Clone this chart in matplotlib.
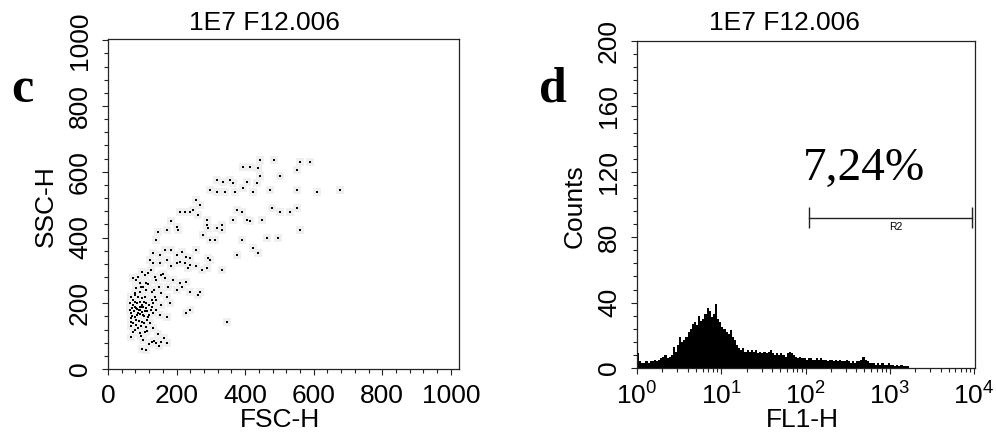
import numpy as np
import matplotlib
matplotlib.use("Agg")
import matplotlib.pyplot as plt
from matplotlib.ticker import MultipleLocator, LogLocator, LogFormatterSciNotation, NullFormatter

plt.rcParams['font.family'] = ['Liberation Sans', 'DejaVu Sans']
plt.rcParams['mathtext.fontset'] = 'custom'
plt.rcParams['mathtext.rm'] = 'Liberation Sans'
plt.rcParams['mathtext.it'] = 'Liberation Sans'

title = "1E7 F12.006"

# panel c: FSC-H / SSC-H events
fsc = [444, 483, 561, 590, 551, 395, 414, 439, 502, 444, 317, 336, 356, 366, 405, 434,
       297, 317, 341, 371, 395, 424, 473, 551, 609, 678, 258, 268, 239, 249, 263, 288,
       210, 224, 185, 200, 205, 171, 146, 141, 375, 390, 366, 405, 414, 449, 478, 502,
       531, 551, 561, 390, 463, 497, 424, 439, 375, 288, 293, 317, 332, 332, 278, 312,
       297, 132, 151, 166, 185, 200, 215, 229, 239, 258, 293, 122, 132, 151, 171, 185,
       200, 210, 224, 234, 239, 258, 273, 288, 332, 107, 117, 137, 156, 166, 176, 190,
       210, 200, 215, 229, 239, 263, 73, 83, 93, 102, 112, 83, 68, 78, 93, 107,
       127, 137, 141, 156, 171, 180, 63, 73, 83, 93, 102, 112, 127, 141, 156, 68,
       78, 88, 102, 117, 132, 151, 171, 68, 83, 98, 112, 122, 73, 93, 107, 68,
       102, 127, 141, 156, 171, 112, 239, 229, 346, 268, 297, 93, 88, 107, 63, 78,
       98, 127, 68, 88, 70, 75, 80, 85, 90, 95, 100, 105, 72, 78, 86, 92,
       98, 104, 110, 115, 120, 66, 74, 82, 90, 97, 106, 113, 120, 125, 130, 135,
       110, 118, 95, 88, 100, 124, 140, 150, 160, 70, 84, 92, 78, 115, 130, 95,
       145, 150, 120, 135, 162, 100]
ssc = [636, 636, 631, 631, 606, 616, 616, 611, 586, 586, 576, 570, 576, 565, 570, 565,
       545, 540, 540, 540, 550, 540, 545, 545, 537, 545, 515, 499, 479, 484, 469, 454,
       479, 479, 449, 433, 423, 423, 418, 393, 484, 479, 454, 454, 449, 454, 489, 479,
       479, 489, 423, 393, 398, 398, 367, 352, 347, 438, 428, 428, 438, 423, 408, 393,
       393, 352, 347, 362, 362, 347, 357, 342, 337, 362, 337, 332, 322, 322, 332, 312,
       322, 327, 322, 307, 317, 312, 301, 307, 301, 286, 291, 281, 286, 276, 251, 271,
       261, 241, 251, 266, 235, 225, 276, 271, 261, 251, 261, 246, 220, 230, 235, 220,
       235, 220, 210, 230, 220, 200, 200, 195, 185, 180, 190, 200, 190, 180, 195, 170,
       159, 170, 164, 159, 170, 164, 159, 144, 134, 144, 129, 139, 114, 109, 114, 98,
       88, 83, 78, 83, 78, 58, 180, 170, 144, 235, 332, 205, 220, 175, 180, 205,
       195, 210, 154, 124, 160, 175, 190, 165, 178, 188, 172, 160, 210, 225, 200, 190,
       215, 205, 185, 175, 195, 130, 140, 150, 145, 130, 140, 150, 165, 180, 200, 240,
       240, 260, 250, 280, 295, 300, 270, 250, 290, 185, 182, 168, 120, 115, 125, 100,
       105, 70, 75, 85, 95, 60]

# panel d: FL1-H histogram, counts per log bin starting at 10^0
log_step = 0.025
counts = [9, 4, 3, 3, 4, 3, 4, 4, 5, 4, 5, 6, 7, 8, 6, 7,
          8, 13, 10, 14, 19, 16, 17, 19, 22, 24, 27, 28, 26, 32, 29, 30,
          33, 37, 35, 31, 33, 39, 30, 28, 25, 24, 22, 21, 23, 19, 17, 14,
          12, 11, 12, 10, 11, 10, 11, 10, 11, 9, 10, 9, 10, 9, 10, 11,
          9, 8, 9, 8, 9, 8, 7, 9, 10, 9, 8, 7, 6, 7, 6, 6,
          5, 6, 6, 5, 5, 6, 5, 6, 5, 5, 4, 5, 5, 4, 5, 4,
          5, 4, 4, 5, 4, 3, 4, 3, 4, 4, 5, 7, 5, 4, 3, 3,
          3, 2, 3, 2, 3, 2, 2, 3, 2, 2, 1, 2, 1, 2, 1, 1, 1]
gate_range = [109, 9500]
gate_level = 92
gate_name = "R2"
gate_pct = "7,24%"

W, H = 996, 434
fig = plt.figure(figsize=(W / 100, H / 100), dpi=100)

ax1 = fig.add_axes([108 / W, 1 - 369 / H, 351 / W, 330 / H])
ax2 = fig.add_axes([637 / W, 1 - 368 / H, 338 / W, 327 / H])

# --- dot plot
ax1.scatter(fsc, ssc, s=40, marker='s', color='#efefef', lw=0, zorder=1)
ax1.scatter(fsc, ssc, s=2.5, marker='s', color='black', lw=0, zorder=2)
ax1.set_xlim(0, 1024)
ax1.set_ylim(0, 1004)
ax1.xaxis.set_major_locator(MultipleLocator(200))
ax1.xaxis.set_minor_locator(MultipleLocator(40))
ax1.yaxis.set_major_locator(MultipleLocator(200))
ax1.yaxis.set_minor_locator(MultipleLocator(40))
ax1.set_xlabel("FSC-H", fontsize=19)
ax1.set_ylabel("SSC-H", fontsize=19)
ax1.xaxis.set_label_coords(0.49, -0.118)
ax1.yaxis.set_label_coords(-0.142, 0.494)

# --- histogram
edges = 10 ** (np.arange(len(counts) + 1) * log_step)
ax2.stairs(counts, edges, fill=True, color='black', lw=0)
ax2.set_xscale('log')
ax2.set_xlim(1, 10 ** 4.01)
ax2.set_ylim(0, 200)
ax2.xaxis.set_major_locator(LogLocator(base=10, numticks=10))
ax2.xaxis.set_major_formatter(LogFormatterSciNotation())
ax2.xaxis.set_minor_locator(LogLocator(base=10, subs=np.arange(2, 10), numticks=20))
ax2.xaxis.set_minor_formatter(NullFormatter())
ax2.yaxis.set_major_locator(MultipleLocator(40))
ax2.yaxis.set_minor_locator(MultipleLocator(8))
ax2.set_xlabel("FL1-H", fontsize=19)
ax2.set_ylabel("Counts", fontsize=19)
ax2.xaxis.set_label_coords(0.488, -0.122)
ax2.yaxis.set_label_coords(-0.148, 0.495)

# gate marker
ax2.plot(gate_range, [gate_level, gate_level], color='#222222', lw=1.0)
ax2.vlines(gate_range, gate_level - 6.5, gate_level + 6.5, color='#222222', lw=1.0)
ax2.text(1175, gate_level - 2.5, gate_name, fontsize=7.5, ha='center', va='top')
ax2.text(92, 115, gate_pct, fontsize=34, family='Liberation Serif', ha='left', va='baseline')

for ax in (ax1, ax2):
    for sp in ax.spines.values():
        sp.set_linewidth(0.9)
        sp.set_color('#222222')
    ax.tick_params(which='both', direction='out', width=0.8, color='#222222')
    ax.tick_params(which='major', length=4.5, labelsize=19)
    ax.tick_params(which='minor', length=3)
    ax.tick_params(axis='x', pad=6)
    ax.tick_params(axis='y', pad=7, labelrotation=90)
    for lbl in ax.get_yticklabels():
        lbl.set_va('center')

fig.text(264 / W, 1 - 23 / H, title, fontsize=19, ha='center', va='center')
fig.text(784 / W, 1 - 23 / H, title, fontsize=19, ha='center', va='center')
fig.text(22.5 / W, 1 - 102 / H, "c", fontsize=36, family='Liberation Serif',
         weight='bold', ha='center', va='baseline')
fig.text(553 / W, 1 - 102 / H, "d", fontsize=36, family='Liberation Serif',
         weight='bold', ha='center', va='baseline')

fig.savefig("out.png", dpi=100)
